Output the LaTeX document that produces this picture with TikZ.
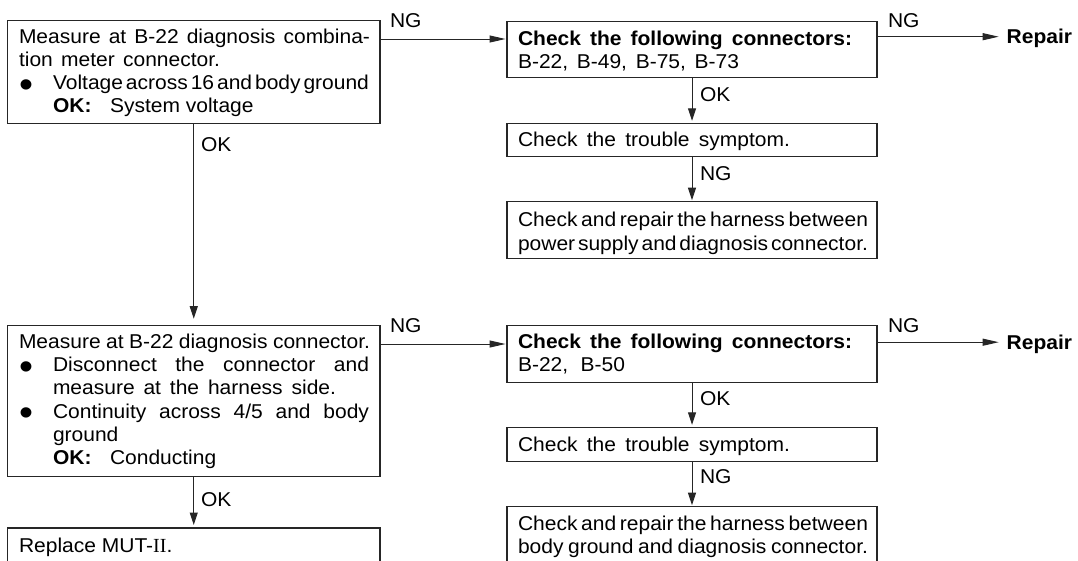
\documentclass[tikz,border=0pt]{standalone}
\usepackage{fontspec}
\usepackage{graphicx}
\setmainfont{Liberation Sans}[FakeStretch=1.05]
\newfontfamily\romanfont{Liberation Serif}
\usetikzlibrary{arrows.meta,calc}
\newcommand{\bul}{\makebox[34pt][l]{\hspace*{0pt}\raisebox{-7.6pt}{\scalebox{1.9}{•}}}}
\newcommand{\ind}{\hspace*{34pt}}
\newcommand{\okl}{\makebox[57pt][l]{\textbf{OK:}}}
\begin{document}
\begin{tikzpicture}[x=1pt,y=-1pt,
  every node/.style={font=\fontsize{20}{23.3}\selectfont},
  box/.style={draw=black!85,line width=1.2pt,anchor=north west,inner sep=0pt,outer sep=0pt,minimum width=#1},
  box/.default=370pt,
  txt/.style={anchor=base west,inner sep=0pt,outer sep=0pt,align=left},
  lbl/.style={anchor=base west,inner sep=0pt,outer sep=0pt},
  harr/.style={draw=black!85,line width=1pt,-{Triangle[length=16pt,width=7pt]}},
  varr/.style={draw=black!85,line width=1pt,-{Triangle[length=12.5pt,width=8pt]}}]
\useasboundingbox (0,0) rectangle (1078,560);
\clip (0,0) rectangle (1078,560);
\fill[white] (0,0) rectangle (1078,560);

% boxes
\node[box=372.5pt,minimum height=103pt] (A) at (7.5,20.5) {};
\node[box,minimum height=55.8pt] (B) at (507,21.5) {};
\node[box,minimum height=33.4pt] (C) at (507,123.3) {};
\node[box,minimum height=56.6pt] (D) at (507,201.7) {};
\node[box=372.5pt,minimum height=151pt] (E) at (7.5,325.7) {};
\node[box=372.5pt,minimum height=45pt] (F) at (7.5,528) {};
\node[box,minimum height=56.6pt] (G) at (507,325.7) {};
\node[box,minimum height=34.4pt] (H) at (507,427.3) {};
\node[box,minimum height=60pt] (I) at (507,506.7) {};

% texts
\node[txt] (At) at (19,43) {\parbox[t]{355pt}{%
\makebox[351pt][s]{Measure at B-22 diagnosis combina-}\\
\makebox[201pt][s]{tion meter connector.}\\
\bul\makebox[316pt][s]{Voltage\hfill across\hfill 16\hfill and\hfill body\hfill ground}\\
\ind\okl System voltage}};

\node[txt] (Bt) at (518,45) {\parbox[t]{355pt}{%
\makebox[334pt][s]{\textbf{Check the following connectors:}}\\
\makebox[221pt][s]{B-22, B-49, B-75, B-73}}};

\node[txt] (Ct) at (518,146.7) {\makebox[272pt][s]{Check the trouble symptom.}};

\node[txt] (Dt) at (518,226.7) {\parbox[t]{355pt}{%
\makebox[350pt][s]{Check\hfill and\hfill repair\hfill the\hfill harness\hfill between}\\
\makebox[350pt][s]{power\hfill supply\hfill and\hfill diagnosis\hfill connector.}}};

\node[txt] (Et) at (19,348.3) {\parbox[t]{355pt}{%
\makebox[351pt][s]{Measure at B-22 diagnosis connector.}\\
\bul\makebox[316pt][s]{Disconnect the connector and}\\
\ind\makebox[283pt][s]{measure at the harness side.}\\
\bul\makebox[316pt][s]{Continuity across 4/5 and body}\\
\ind ground\\
\ind\okl Conducting}};

\node[txt] (Ft) at (19,552) {Replace MUT-{\romanfont II}.};

\node[txt] (Gt) at (518,348.3) {\parbox[t]{355pt}{%
\makebox[334pt][s]{\textbf{Check the following connectors:}}\\
\makebox[107pt][s]{B-22, B-50}}};

\node[txt] (Ht) at (518,451) {\makebox[272pt][s]{Check the trouble symptom.}};

\node[txt] (It) at (518,530.2) {\parbox[t]{355pt}{%
\makebox[350pt][s]{Check\hfill and\hfill repair\hfill the\hfill harness\hfill between}\\
\makebox[350pt][s]{body ground and diagnosis connector.}}};

% labels
\node[lbl] (ngA) at (390,27.5) {NG};
\node[lbl] (okA) at (201,151.7) {OK};
\node[lbl] (okB) at (700,101.7) {OK};
\node[lbl] (ngC) at (700,180) {NG};
\node[lbl] (ngB) at (888,27.5) {NG};
\node[lbl] (rep1) at (1006.7,43.9) {\textbf{Repair}};
\node[lbl] (ngE) at (390,332.7) {NG};
\node[lbl] (okE) at (201,506.7) {OK};
\node[lbl] (ngG) at (888,332.7) {NG};
\node[lbl] (rep2) at (1006.7,349) {\textbf{Repair}};
\node[lbl] (okG) at (700,405) {OK};
\node[lbl] (ngH) at (700,483.4) {NG};

% connectors
\coordinate (a1) at ($(A.north east)+(0,18.5)$);
\coordinate (b0) at ($(B.north west)+(0,17.5)$);
\draw[harr,shorten >=1.5pt] (a1) -- (b0);
\coordinate (b1) at ($(B.north east)+(0,15.2)$);
\draw[harr,shorten >=8pt] (b1) -- (rep1.west |- b1);
\draw[varr,shorten >=2.5pt] (B.south) -- (C.north);
\draw[varr,shorten >=1.5pt] (C.south) -- (D.north);
\draw[varr,shorten >=7pt] (A.south) -- (E.north);

\coordinate (e1) at ($(E.north east)+(0,18.3)$);
\coordinate (g0) at ($(G.north west)+(0,18.3)$);
\draw[harr,shorten >=1.5pt] (e1) -- (g0);
\coordinate (g1) at ($(G.north east)+(0,16.5)$);
\draw[harr,shorten >=8pt] (g1) -- (rep2.west |- g1);
\draw[varr,shorten >=2.5pt] (G.south) -- (H.north);
\draw[varr,shorten >=1.5pt] (H.south) -- (I.north);
\draw[varr,shorten >=3pt] (E.south) -- (F.north);
\end{tikzpicture}
\end{document}
